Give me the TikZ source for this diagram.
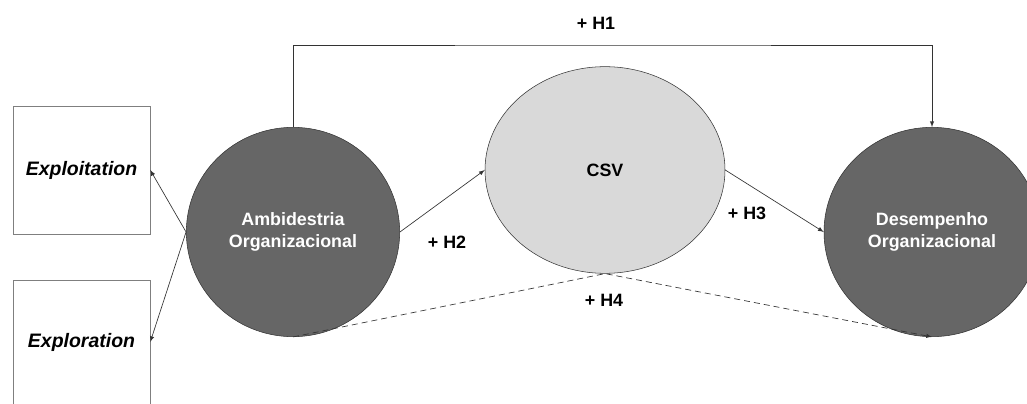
\documentclass[tikz,border=0pt]{standalone}
\usepackage{fontspec}
\setmainfont{Liberation Sans}
\usepackage{tikz}
\usetikzlibrary{shapes.geometric,arrows}
\definecolor{darkfill}{HTML}{666666}
\definecolor{lightfill}{HTML}{D9D9D9}
\definecolor{boxline}{HTML}{7F7F7F}

\begin{document}
\begin{tikzpicture}[x=0.75pt,y=-0.75pt,
		font=\fontsize{13.4}{16.5}\selectfont\bfseries,
		var/.style={ellipse,draw=black!80,fill=darkfill,text=white,align=center,inner sep=0pt,minimum width=160pt,minimum height=157pt},
		dim/.style={rectangle,draw=boxline,fill=white,inner sep=0pt,minimum width=102.75pt,font=\fontsize{14.6}{17}\selectfont\bfseries\itshape},
		path/.style={draw=black!80,line width=0.5pt,-latex}]
		\useasboundingbox (0,0) rectangle (1027,403);
		\node[dim,minimum height=96pt] (exploit) at (81.5,170) {Exploitation};
		\node[dim,minimum height=93pt] (explor) at (81.5,342) {Exploration};
		\node[var] (ambi) at (293,232) {Ambidestria\\Organizacional};
		\node[var,fill=lightfill,text=black,minimum width=180pt,minimum height=155pt] (csv) at (605,170) {CSV};
		\node[var,minimum width=162pt] (desemp) at (932,232) {Desempenho\\Organizacional};
		\coordinate (top) at (613,45);
		\draw[path] (ambi.west) -- (exploit.east);
		\draw[path] (ambi.west) -- (explor.east);
		\draw[path] (ambi.north) |- (top) -| (desemp.north);
		\draw[path] (ambi.east) -- (csv.west);
		\draw[path] (csv.east) -- (desemp.west);
		\draw[path,dash pattern=on 4.5pt off 3pt] (ambi.south) -- (csv.south) -- (desemp.south);
		\foreach \h / \x / \y in {1/596/23,2/447/242,3/747/213,4/604/300} { \node (lab\h) at (\x,\y) {+ H\h};}
	\end{tikzpicture}
\end{document}
